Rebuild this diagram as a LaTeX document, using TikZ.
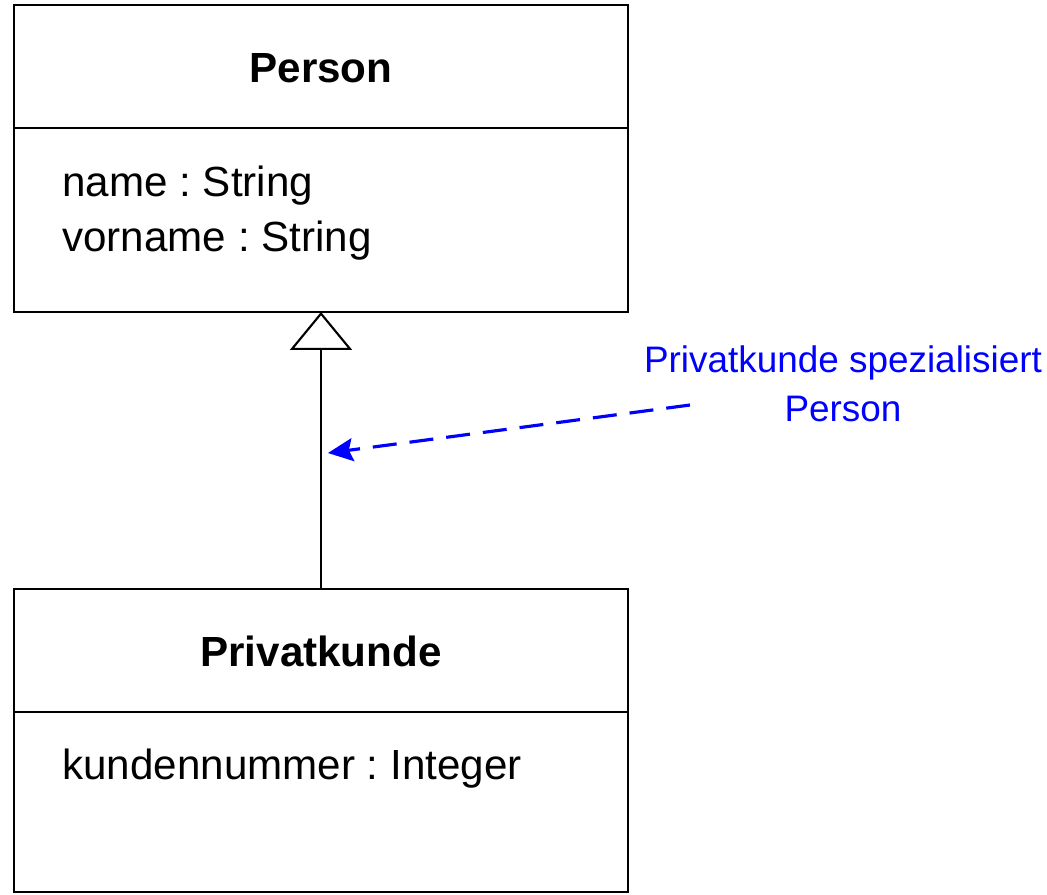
\documentclass[tikz,border=0pt]{standalone}
\usepackage{fontspec}
\setmainfont{Liberation Sans}
\usetikzlibrary{arrows.meta}
\definecolor{noteblue}{RGB}{0,0,255}
\frenchspacing
\tikzset{
  classbox/.style={draw=black, line width=1.2pt, rectangle, minimum width=12.28cm, inner sep=0pt, outer sep=0pt, anchor=north},
  classname/.style={anchor=base, font=\fontsize{24}{32}\selectfont\bfseries},
  attr/.style={anchor=base west, inner sep=0pt, font=\fontsize{24}{32}\selectfont},
  notetext/.style={anchor=base, inner sep=0pt, text=noteblue, font=\fontsize{21}{28}\selectfont},
  generalize/.style={draw=black, line width=1.2pt, -{Triangle[open, width=1.24cm, length=0.76cm]}},
  comment/.style={draw=noteblue, line width=1.8pt, dash pattern=on 0.48cm off 0.26cm, -{Stealth[length=0.5cm, width=0.46cm, inset=0.08cm]}}
}
\begin{document}
\begin{tikzpicture}[x=0.02cm, y=-0.02cm]
	\useasboundingbox (0,0) rectangle (1047,894);
	% Person
	\node[classbox, minimum height=2.46cm] (personhead) at (321,5) {};
	\node[classbox, minimum height=3.68cm] (personattr) at (personhead.south) {};
	\node[classname] (personname) at (321,82) {Person};
	\node[attr] (attrname)    at (62,196) {name : String};
	\node[attr] (attrvorname) at (62,251) {vorname : String};
	% Privatkunde
	\node[classbox, minimum height=2.46cm] (privathead) at (321,589) {};
	\node[classbox, minimum height=3.6cm] (privatattr) at (privathead.south) {};
	\node[classname] (privatname) at (321,666) {Privatkunde};
	\node[attr] (attrkunde) at (62,779) {kundennummer : Integer};
	% Vererbung
	\draw[generalize] (privathead.north) -- (personattr.south);
	% Kommentar
	\node[notetext] (note1) at (843,372) {Privatkunde spezialisiert};
	\node[notetext] (note2) at (843,421) {Person};
	\coordinate (notefoot) at (690,405);
	\coordinate (genline) at (328,453);
	\draw[comment] (notefoot) -- (genline);
\end{tikzpicture}
\end{document}
